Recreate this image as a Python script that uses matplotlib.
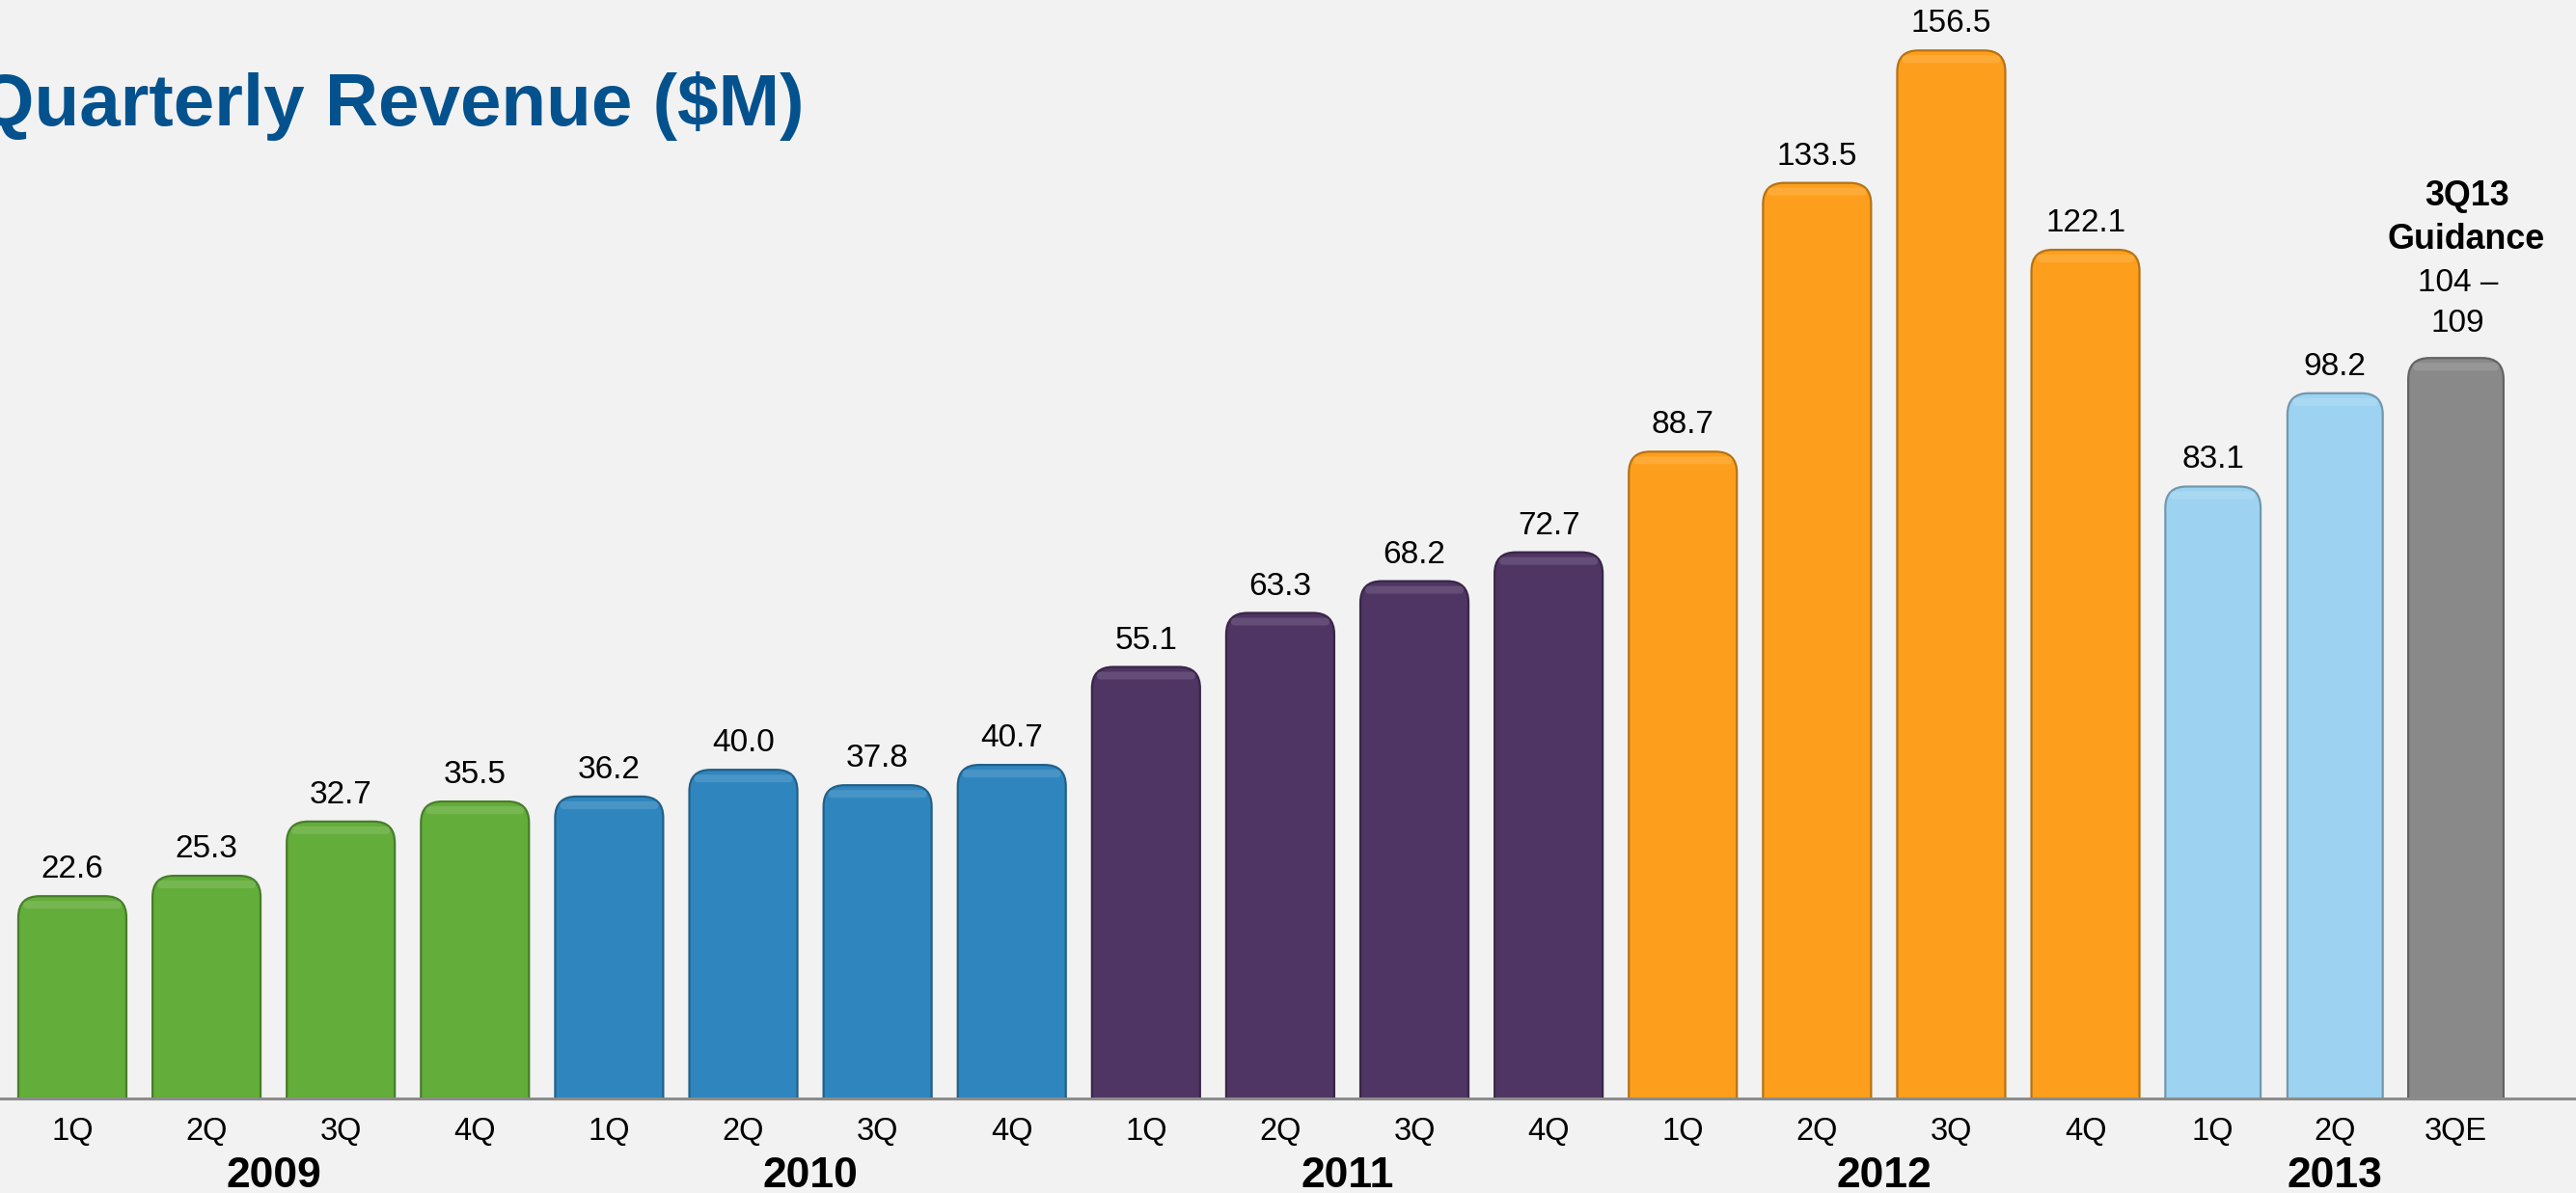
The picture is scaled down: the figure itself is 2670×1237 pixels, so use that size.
import matplotlib
matplotlib.use('Agg')
import numpy as np
import matplotlib.pyplot as plt
import matplotlib.transforms as mtransforms
from matplotlib.patches import FancyBboxPatch
from matplotlib.colors import to_rgb

plt.rcParams['font.family'] = ['Liberation Sans', 'DejaVu Sans']

# Datos del gráfico
years = ['2009', '2010', '2011', '2012', '2013']
quarters = ['1Q', '2Q', '3Q', '4Q'] * 4 + ['1Q', '2Q', '3QE']
revenue = [22.6, 25.3, 32.7, 35.5,
           36.2, 40.0, 37.8, 40.7,
           55.1, 63.3, 68.2, 72.7,
           88.7, 133.5, 156.5, 122.1,
           83.1, 98.2]
guidance_low = 104
guidance_high = 109
year_of_bar = [0] * 4 + [1] * 4 + [2] * 4 + [3] * 4 + [4] * 3

year_colors = ['#63AD3A', '#2F86BE', '#4F3563', '#FD9F1C', '#9DD3F1']
guidance_color = '#898989'
bg = '#F2F2F2'
title_color = '#03528E'

# Valores de las barras (la guía se dibuja en su extremo inferior)
heights = revenue + [guidance_low]
colors = [year_colors[y] for y in year_of_bar[:-1]] + [guidance_color]

# Posiciones: los trimestres de 2013 son más estrechos
pos = list(range(16)) + [15.95, 16.86, 17.76]
widths = [0.805] * 16 + [0.71] * 3

W, H = 2670, 1237
fig = plt.figure(figsize=(W / 100, H / 100), dpi=100, facecolor=bg)
base_px = 1139
ax = fig.add_axes([0, 1 - base_px / H, 1, base_px / H])
ax.set_facecolor(bg)

# La diapositiva original no es del todo lineal: escala potencial suave
p = 0.85
ax.set_yscale('function', functions=(lambda v: np.power(np.clip(v, 0, None), p),
                                     lambda t: np.power(np.clip(t, 0, None), 1 / p)))
ax.set_xlim(-0.539, 18.655)
ax.set_ylim(0, 165.4)

bars = ax.bar(pos, heights, width=widths, color=colors)


def darker(c, f=0.72):
    r, g, b = to_rgb(c)
    return (r * f, g * f, b * f)


def lighter(c, f=0.35):
    r, g, b = to_rgb(c)
    return (r + (1 - r) * f, g + (1 - g) * f, b + (1 - b) * f)


# Barras con esquinas superiores redondeadas
radius = 22
for rect, c in zip(bars, colors):
    rect.set_visible(False)
    x0, y0 = ax.transData.transform((rect.get_x(), 0))
    x1, y1 = ax.transData.transform((rect.get_x() + rect.get_width(), rect.get_height()))
    box = FancyBboxPatch((x0, y0 - 40), x1 - x0, y1 - y0 + 40,
                         boxstyle=f'round,pad=0,rounding_size={radius}',
                         facecolor=c, edgecolor=darker(c), linewidth=1.6,
                         transform=mtransforms.IdentityTransform())
    ax.add_artist(box)
    hl = FancyBboxPatch((x0 + 5, y1 - 13), x1 - x0 - 10, 8,
                        boxstyle='round,pad=0,rounding_size=4',
                        facecolor=lighter(c), edgecolor='none', alpha=0.35,
                        transform=mtransforms.IdentityTransform())
    ax.add_artist(hl)

# Etiquetas de valores
for x, v in zip(pos[:-1], revenue):
    ax.annotate(f'{v:.1f}', (x, v), xytext=(0, 13.7), textcoords='offset points',
                ha='center', va='baseline', fontsize=24, color='black')

# Guía 3Q13
gx, gv = pos[-1], heights[-1]
ax.annotate(f'{guidance_high}', (gx, gv), xytext=(1.5, 19.4), textcoords='offset points',
            ha='center', va='baseline', fontsize=24, annotation_clip=False)
ax.annotate(f'{guidance_low} \u2013', (gx, gv), xytext=(1.5, 49.7), textcoords='offset points',
            ha='center', va='baseline', fontsize=24, annotation_clip=False)
ax.annotate('Guidance', (gx, gv), xytext=(8, 81.4), textcoords='offset points',
            ha='center', va='baseline', fontsize=25.8, fontweight='bold', annotation_clip=False)
ax.annotate('3Q13', (gx, gv), xytext=(8, 113.8), textcoords='offset points',
            ha='center', va='baseline', fontsize=25.8, fontweight='bold', annotation_clip=False)

# Etiquetas de trimestres y años
for x, q in zip(pos, quarters):
    ax.annotate(q, (x, 0), xytext=(0, -31), textcoords='offset points',
                ha='center', va='baseline', fontsize=23.5, annotation_clip=False)
for i, yr in enumerate(years):
    xs = [x for x, y in zip(pos, year_of_bar) if y == i]
    ax.annotate(yr, (np.mean(xs), 0), xytext=(0, -66.5), textcoords='offset points',
                ha='center', va='baseline', fontsize=32, fontweight='bold', annotation_clip=False)

# Ejes
for s in ['top', 'left', 'right']:
    ax.spines[s].set_visible(False)
ax.spines['bottom'].set_color('#8C8C8C')
ax.spines['bottom'].set_linewidth(2.2)
ax.set_xticks([])
ax.set_yticks([])
ax.minorticks_off()

fig.text(834 / W, 1 - 130 / H, 'Quarterly Revenue ($M)', ha='right', va='baseline',
         fontsize=55, fontweight='bold', color=title_color)

fig.savefig('out.png', dpi=100, facecolor=bg)
